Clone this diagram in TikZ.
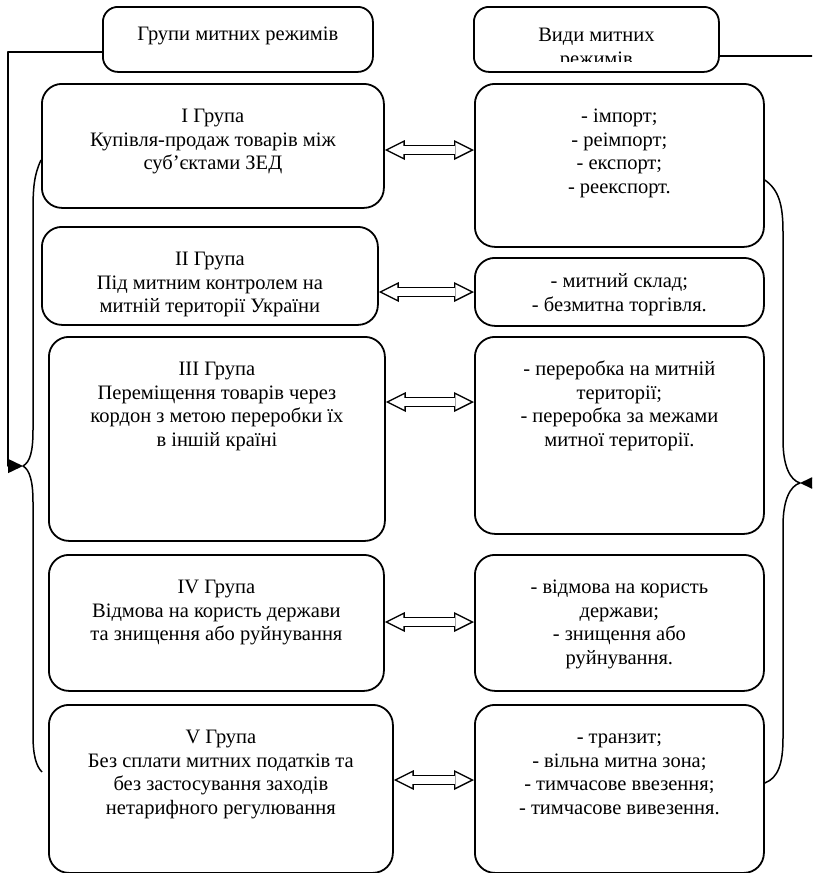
\documentclass[tikz,border=0pt]{standalone}
\usepackage{fontspec}
\setmainfont{Liberation Serif}
\usetikzlibrary{arrows.meta}
\newcommand{\boxtext}[4]{\parbox[t][#2][t]{#1}{\centering\rule{0pt}{#3}#4}}

\begin{document}
\begin{tikzpicture}[x=1pt,y=-1pt,line join=round]
    \tikzstyle{cell}=[draw, line width=1.8pt, rounded corners=20pt, inner sep=0pt, anchor=north west, font=\fontsize{20.5}{23.5}\selectfont]
    \tikzstyle{head}=[style=cell, rounded corners=15pt]
    \tikzstyle{link}=[line width=1.5pt, -{Triangle[length=15pt,width=14pt]}]
    \tikzstyle{brace}=[line width=1.5pt]
    \tikzstyle{twoway}=[draw=black, line width=10.5pt,
      {Triangle[length=20pt,width=20pt,line width=0pt]}-{Triangle[length=20pt,width=20pt,line width=0pt]},
      postaction={draw=white, line width=7.5pt, shorten <=3.35pt, shorten >=3.35pt,
      arrows={Triangle[length=15.2pt,width=15.2pt,line width=0pt]-Triangle[length=15.2pt,width=15.2pt,line width=0pt]}}]

    \useasboundingbox (0,0) rectangle (812,873);
    \clip (0,0) rectangle (812,873);

    % headers
    \node[head] (hgrp) at (102,6) {\boxtext{270pt}{65pt}{34pt}{Групи митних режимів}};
    \node[head, minimum width=245pt, minimum height=65pt,
      path picture={\clip ([yshift=10pt]path picture bounding box.south west) rectangle (path picture bounding box.north east);
        \node[anchor=north, inner sep=0pt, font=\fontsize{20.5}{23.5}\selectfont] at (path picture bounding box.north)
          {\boxtext{245pt}{90pt}{34pt}{Види митних\\режимів}};}] (hkind) at (473,6) {};

    % groups
    \node[cell] (g1) at (41,83)  {\boxtext{342pt}{124pt}{39pt}{I Група\\Купівля-продаж товарів між\\суб’єктами ЗЕД}};
    \node[cell] (g2) at (41,226) {\boxtext{336pt}{98pt}{39pt}{II Група\\Під митним контролем на\\митній території України}};
    \node[cell] (g3) at (48,336) {\boxtext{336pt}{204pt}{39pt}{III Група\\Переміщення товарів через\\кордон з метою переробки їх\\в іншій країні}};
    \node[cell] (g4) at (48,554) {\boxtext{335pt}{136pt}{39pt}{IV Група\\Відмова на користь держави\\та знищення або руйнування}};
    \node[cell] (g5) at (48,704) {\boxtext{344pt}{168pt}{39pt}{V Група\\Без сплати митних податків та\\без застосування заходів\\нетарифного регулювання}};

    % kinds
    \node[cell] (k1) at (474,83)  {\boxtext{289pt}{163pt}{39pt}{- імпорт;\\- реімпорт;\\- експорт;\\- реекспорт.}};
    \node[cell] (k2) at (474,257) {\boxtext{289pt}{68pt}{30pt}{- митний склад;\\- безмитна торгівля.}};
    \node[cell] (k3) at (474,336) {\boxtext{289pt}{197pt}{39pt}{- переробка на митній\\території;\\- переробка за межами\\митної території.}};
    \node[cell] (k4) at (474,554) {\boxtext{289pt}{136pt}{39pt}{- відмова на користь\\держави;\\- знищення або\\руйнування.}};
    \node[cell] (k5) at (474,704) {\boxtext{289pt}{168pt}{39pt}{- транзит;\\- вільна митна зона;\\- тимчасове ввезення;\\- тимчасове вивезення.}};

    \coordinate (ltip) at (23,466);
    \coordinate (rtip) at (800,483);

    \draw[twoway] (g1.east |- 0,150) -- (k1.west |- 0,150);
    \draw[twoway] (g2.east |- 0,292) -- (k2.west |- 0,292);
    \draw[twoway] (g3.east |- 0,402) -- (k3.west |- 0,402);
    \draw[twoway] (g4.east |- 0,622) -- (k4.west |- 0,622);
    \draw[twoway] (g5.east |- 0,780) -- (k5.west |- 0,780);

    % braces
    \draw[brace] (g1.west |- 0,160) .. controls (34,175) and (33,188) .. (33,212) -- (33,430)
      .. controls (33,452) and (30,462) .. (ltip) .. controls (30,470) and (33,482) .. (33,502)
      -- (33,735) .. controls (33,755) and (36,766) .. (42,772);
    \draw[brace] (k1.east |- 0,180) .. controls (779,190) and (783,205) .. (783,232) -- (783,440)
      .. controls (783,466) and (790,480) .. (rtip) .. controls (790,486) and (783,500) .. (783,526)
      -- (783,738) .. controls (783,764) and (778,778) .. (k5.east |- 0,783);

    \draw[link] (hgrp.west |- 0,52) -- (8,52) -- (8,466) -- (ltip);
    \draw[link] (hkind.east |- 0,56) -- (830,56) -- (830,483) -- (rtip);
\end{tikzpicture}
\end{document}
